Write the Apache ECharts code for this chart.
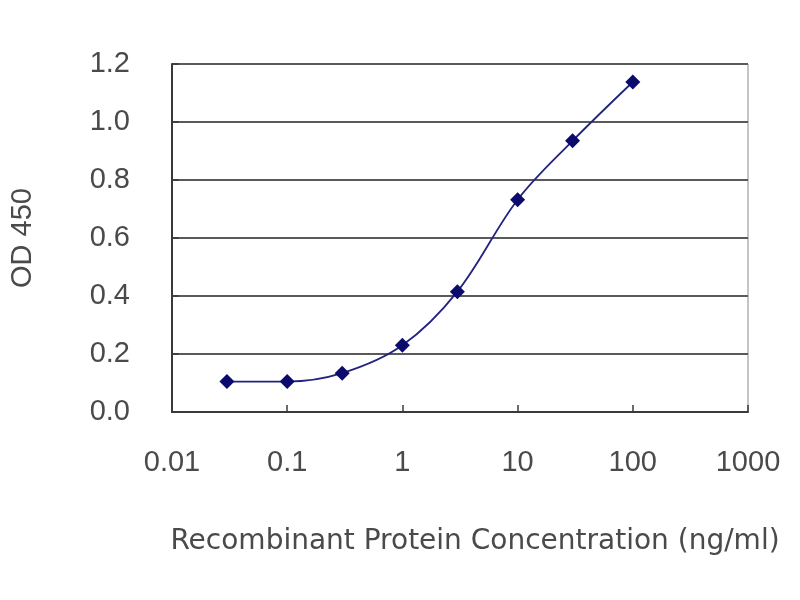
<!DOCTYPE html>
<html>
<head>
<meta charset="utf-8">
<script src="https://cdn.jsdelivr.net/npm/echarts@6/dist/echarts.min.js"></script>
<style>
  html, body { margin: 0; padding: 0; background: #fff; }
  #main { width: 800px; height: 600px; }
</style>
</head>
<body>
<div id="main"></div>
<script>
// concentrations (ng/ml) and OD 450 readings
var concentration = [0.03, 0.1, 0.3, 1, 3, 10, 30, 100];
var od450 = [0.105, 0.105, 0.134, 0.230, 0.415, 0.732, 0.935, 1.138];
var xTickLabels = ['0.01', '0.1', '1', '10', '100', '1000'];
var yTickLabels = ['0.0', '0.2', '0.4', '0.6', '0.8', '1.0', '1.2'];

var points = [];
for (var i = 0; i < concentration.length; i++) {
    points.push([concentration[i], od450[i]]);
}

var myChart = echarts.init(document.getElementById('main'));
var fontFace = '"Liberation Sans", Arial, sans-serif';

var option = {
    backgroundColor: '#ffffff',
    animation: false,
    grid: {
        show: true,
        left: 172,
        right: 52,
        top: 64,
        bottom: 188,
        borderColor: '#8a8a8a',
        borderWidth: 1
    },
    xAxis: {
        type: 'log',
        logBase: 10,
        min: 0.01,
        max: 1000,
        name: 'Recombinant Protein Concentration (ng/ml)',
        nameLocation: 'middle',
        nameGap: 112,
        nameTextStyle: {
            color: '#4a4a4a',
            fontSize: 28,
            fontFamily: '"DejaVu Sans", sans-serif',
            padding: [4, 0, 0, 30]     // nudge right like the original
        },
        axisLine: { show: true, lineStyle: { color: '#3a3a3a', width: 2 } },
        axisTick: { show: true, inside: true, length: 7, lineStyle: { color: '#3a3a3a', width: 1.5 } },
        axisLabel: {
            margin: 36,
            color: '#4a4a4a',
            fontSize: 29,
            fontFamily: fontFace,
            formatter: function (value, index) {
                return xTickLabels[index] !== undefined ? xTickLabels[index] : '';
            }
        },
        splitLine: { show: false }
    },
    yAxis: {
        type: 'value',
        min: 0,
        max: 1.2,
        interval: 0.2,
        name: 'OD 450',
        nameLocation: 'middle',
        nameRotate: 90,
        nameGap: 135,
        nameTextStyle: { color: '#4a4a4a', fontSize: 29, fontFamily: fontFace },
        axisLine: { show: true, lineStyle: { color: '#3a3a3a', width: 2 } },
        axisTick: { show: true, inside: true, length: 7, lineStyle: { color: '#3a3a3a', width: 1.5 } },
        axisLabel: {
            margin: 42,
            color: '#4a4a4a',
            fontSize: 29,
            fontFamily: fontFace,
            formatter: function (value, index) {
                return yTickLabels[index];
            }
        },
        splitLine: { show: true, lineStyle: { color: '#5a5a5a', width: 2 } }
    },
    series: [{
        type: 'line',
        data: points,
        smooth: 0.35,
        symbol: 'diamond',
        symbolSize: 15,
        itemStyle: { color: '#0b0b6e' },
        lineStyle: { color: '#22227f', width: 1.8 }
    }]
};

myChart.setOption(option);
</script>
</body>
</html>
